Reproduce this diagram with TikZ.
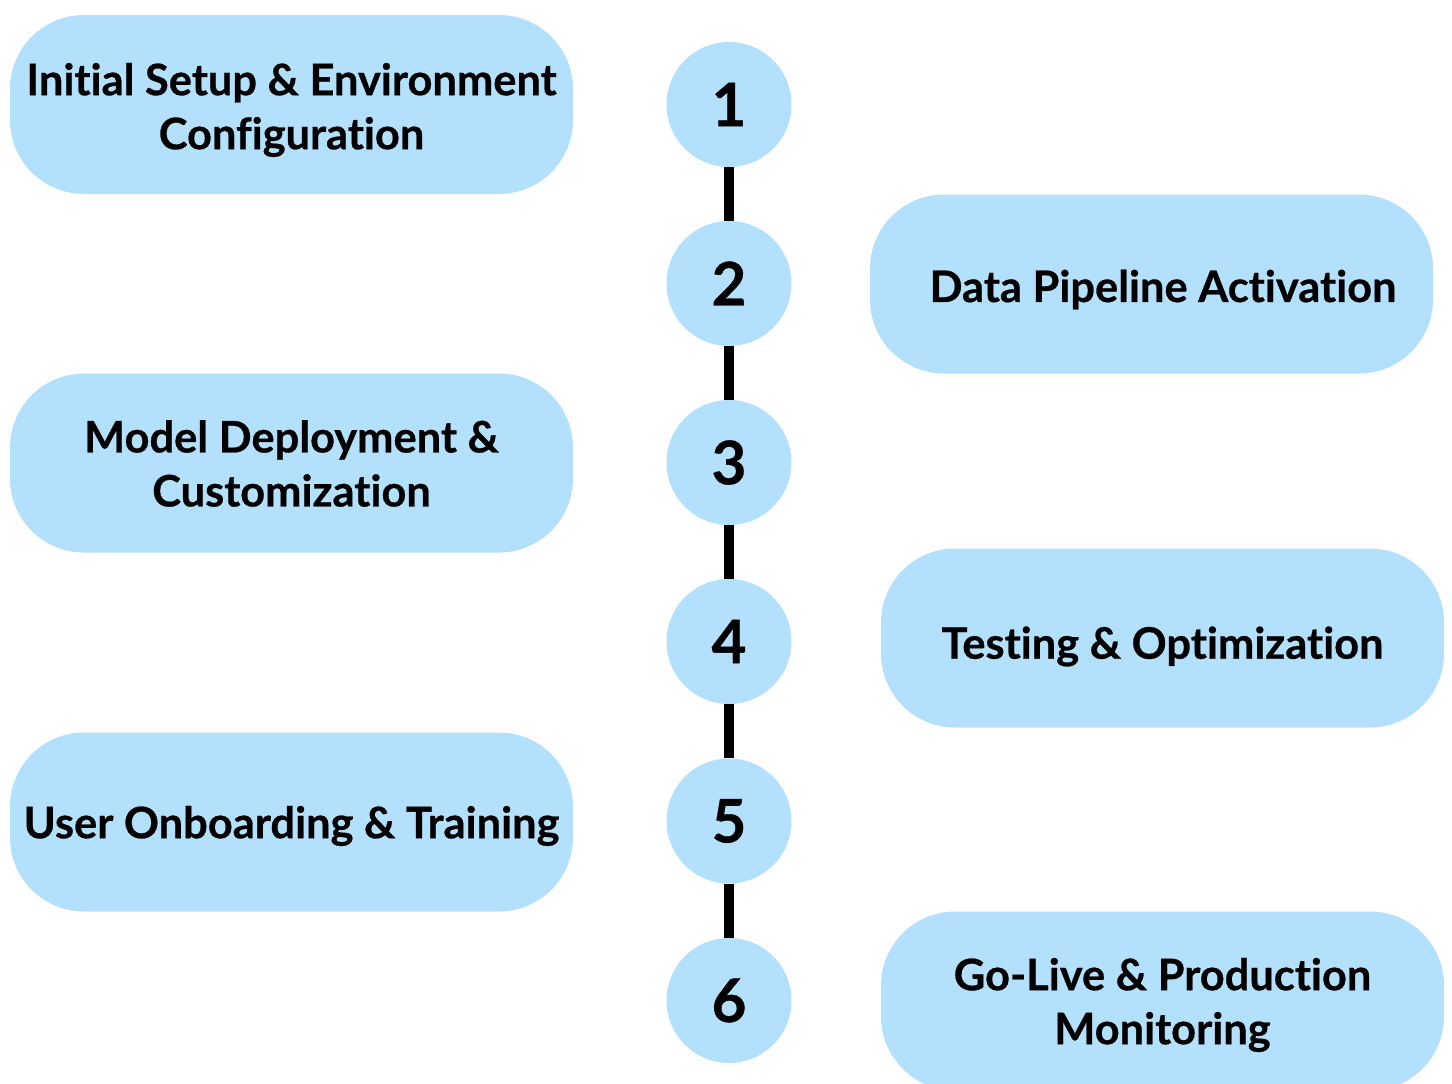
\documentclass[tikz,border=0pt]{standalone}
\usepackage{fontspec}
\setmainfont{Lato}[UprightFont=* Bold,Ligatures=NoCommon,FakeBold=0.6]
\definecolor{boxblue}{RGB}{179,224,253}
\begin{document}
\begin{tikzpicture}[x=1pt,y=-1pt,
  stepbox/.style={fill=boxblue,draw=none,rounded corners=74pt,minimum width=563pt,minimum height=179pt,inner sep=0pt},
  steptext/.style={align=center,inner sep=0pt,yshift=-5.5pt,font=\fontsize{43.4}{54}\selectfont},
  numcirc/.style={circle,fill=boxblue,draw=none,minimum size=125pt,inner sep=0pt,font=\fontsize{60}{60}\selectfont},
  link/.style={line width=10pt,black}]
\useasboundingbox (0,0) rectangle (1452,1084);
\clip (0,0) rectangle (1452,1084);
\node[stepbox] (b1) at (291.5,104.5) {};
\node[stepbox] (b2) at (1151.5,284) {};
\node[stepbox] (b3) at (291.5,463) {};
\node[stepbox] (b4) at (1162.5,638) {};
\node[stepbox] (b5) at (291.5,822) {};
\node[stepbox] (b6) at (1162.5,1001) {};
\node[steptext] (t1) at (b1) {Initial Setup \& Environment\\Configuration};
\node[steptext,xshift=11.5pt] (t2) at (b2) {Data Pipeline Activation};
\node[steptext,yshift=5pt] (t3) at (b3) {Model Deployment \&\\Customization};
\node[steptext,yshift=-3pt] (t4) at (b4) {Testing \& Optimization};
\node[steptext,yshift=1.5pt] (t5) at (b5) {User Onboarding \& Training};
\node[steptext,yshift=1.5pt] (t6) at (b6) {Go-Live \& Production\\Monitoring};
\node[numcirc] (c1) at (729,104.5) {1};
\node[numcirc] (c2) at (729,283.5) {2};
\node[numcirc] (c3) at (729,462.5) {3};
\node[numcirc] (c4) at (729,641.5) {4};
\node[numcirc] (c5) at (729,821) {5};
\node[numcirc] (c6) at (729,1000.5) {6};
\foreach \a/\b in {c1/c2,c2/c3,c3/c4,c4/c5,c5/c6}
  \draw[link] (\a.south) -- (\b.north);
\end{tikzpicture}
\end{document}
